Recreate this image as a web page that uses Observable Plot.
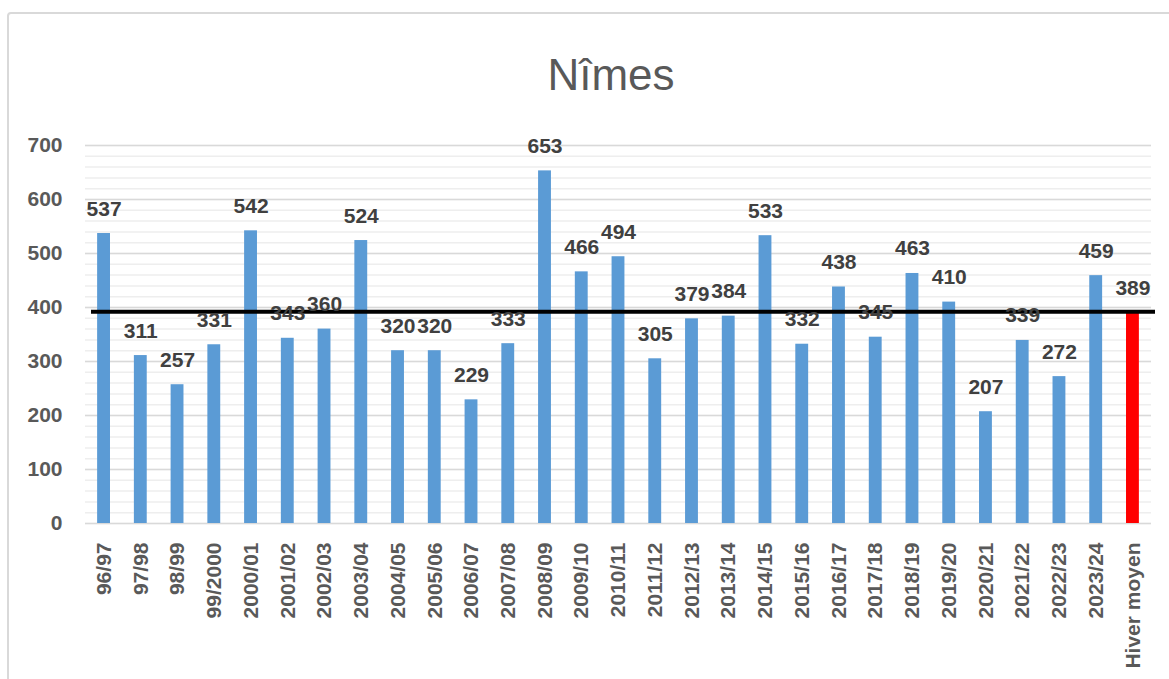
<!DOCTYPE html>
<html>
<head>
<meta charset="utf-8">
<script src="https://cdn.jsdelivr.net/npm/d3@7"></script>
<script src="https://cdn.jsdelivr.net/npm/@observablehq/plot@0.6"></script>
<style>
  html, body { margin: 0; padding: 0; background: #fff; width: 1169px; height: 679px; overflow: hidden; }
  #frame { position: absolute; left: 7px; top: 12px; width: 1180px; height: 700px; border: 2px solid #d9d9d9; border-radius: 4px; box-sizing: border-box; }
  #title { position: absolute; left: 0; width: 1222px; top: 50px; text-align: center; font: 400 44px "Liberation Sans", Arial, sans-serif; color: #595959; line-height: 50px; }
  #chart { position: absolute; left: 0; top: 0; }
</style>
</head>
<body>
<div id="frame"></div>
<div id="title">Nîmes</div>
<div id="chart"></div>
<script>
const categories = ["96/97","97/98","98/99","99/2000","2000/01","2001/02","2002/03","2003/04","2004/05","2005/06","2006/07","2007/08","2008/09","2009/10","2010/11","2011/12","2012/13","2013/14","2014/15","2015/16","2016/17","2017/18","2018/19","2019/20","2020/21","2021/22","2022/23","2023/24","Hiver moyen"];
const values = [537,311,257,331,542,343,360,524,320,320,229,333,653,466,494,305,379,384,533,332,438,345,463,410,207,339,272,459,389];
const averageLine = 392;
const yTicks = [0,100,200,300,400,500,600,700];
const yMinorTicks = d3.range(0, 701, 20);

const data = categories.map((c, i) => ({cat: c, value: values[i], avg: c === "Hiver moyen"}));

const chart = Plot.plot({
  width: 1169,
  height: 679,
  marginTop: 145,
  marginBottom: 156,
  marginLeft: 85,
  marginRight: 18,
  style: {fontFamily: "'Liberation Sans', Arial, sans-serif", background: "transparent", overflow: "visible"},
  x: {domain: categories, paddingInner: 0.65, paddingOuter: 0.33, round: false, label: null, tickSize: 0, tickPadding: 19, tickRotate: -90},
  y: {domain: [0, 700], label: null, ticks: yTicks, tickSize: 0, tickPadding: 23},
  marks: [
    Plot.ruleY(yMinorTicks, {stroke: "#eeeeee", strokeWidth: 1.5}),
    Plot.ruleY(yTicks, {stroke: "#d9d9d9", strokeWidth: 1.5}),
    Plot.barY(data, {x: "cat", y: "value", fill: d => d.avg ? "#ff0000" : "#5b9bd5"}),
    Plot.ruleY([averageLine], {stroke: "#000", strokeWidth: 4, insetLeft: 6, insetRight: -4}),
    Plot.text(data, {x: "cat", y: "value", text: d => String(d.value), lineAnchor: "bottom", dy: -18, fill: "#404040", fontSize: 21, fontWeight: "bold"}),
    Plot.axisY({ticks: yTicks, tickSize: 0, tickPadding: 23, fontSize: 21, fontWeight: "bold", fill: "#595959", label: null}),
    Plot.axisX({tickSize: 0, tickPadding: 19, tickRotate: -90, fontSize: 21, fontWeight: "bold", fill: "#595959", label: null})
  ]
});
document.getElementById("chart").appendChild(chart);
</script>
</body>
</html>
